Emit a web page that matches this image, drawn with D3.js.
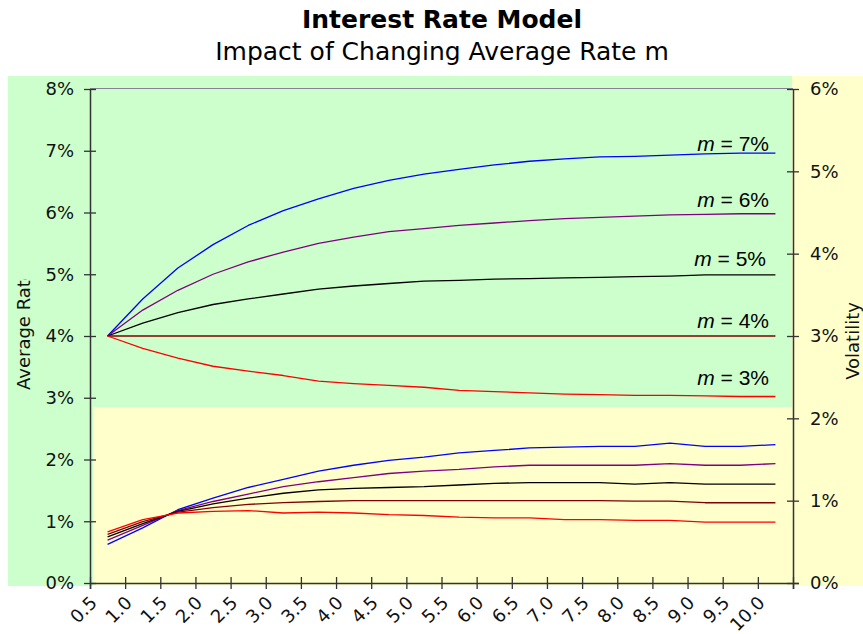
<!DOCTYPE html>
<html><head><meta charset="utf-8">
<script src="https://cdn.jsdelivr.net/npm/d3@7"></script>
<style>body{margin:0;background:#fff}svg{display:block}</style>
</head><body><svg id="c" width="863" height="634"></svg>
<script>
const categories = ["0.5","1.0","1.5","2.0","2.5","3.0","3.5","4.0","4.5","5.0","5.5","6.0","6.5","7.0","7.5","8.0","8.5","9.0","9.5","10.0"];
const seriesLabels = ["7%","6%","5%","4%","3%"];
const seriesColors = ["#0000ff","#800080","#000000","#800000","#ff0000"];
const avg7 = [4.00,4.60,5.10,5.48,5.79,6.03,6.22,6.39,6.52,6.62,6.70,6.77,6.83,6.87,6.90,6.91,6.93,6.95,6.96,6.96];
const avg6 = [4.00,4.42,4.74,5.00,5.20,5.36,5.50,5.60,5.69,5.74,5.79,5.83,5.87,5.90,5.92,5.94,5.96,5.97,5.98,5.98];
const avg5 = [4.00,4.21,4.38,4.51,4.60,4.68,4.76,4.81,4.85,4.89,4.90,4.92,4.93,4.94,4.95,4.96,4.97,4.99,4.99,4.99];
const avg4 = [4.00,4.00,4.00,4.00,4.00,4.00,4.00,4.00,4.00,4.00,4.00,4.00,4.00,4.00,4.00,4.00,4.00,4.00,4.00,4.00];
const avg3 = [4.00,3.80,3.64,3.51,3.43,3.36,3.27,3.23,3.20,3.17,3.12,3.10,3.08,3.06,3.05,3.04,3.04,3.03,3.02,3.02];
const vol7 = [0.47,0.67,0.89,1.03,1.16,1.26,1.36,1.43,1.49,1.53,1.58,1.61,1.64,1.65,1.66,1.66,1.70,1.66,1.66,1.68];
const vol6 = [0.52,0.70,0.88,0.99,1.08,1.17,1.23,1.28,1.33,1.36,1.38,1.41,1.43,1.43,1.43,1.43,1.45,1.43,1.43,1.45];
const vol5 = [0.56,0.72,0.87,0.96,1.03,1.09,1.13,1.15,1.16,1.17,1.19,1.21,1.22,1.22,1.22,1.20,1.22,1.20,1.20,1.20];
const vol4 = [0.59,0.745,0.86,0.915,0.955,0.975,0.99,1.00,1.00,1.00,1.00,1.00,1.00,1.00,1.00,0.995,0.995,0.975,0.975,0.975];
const vol3 = [0.62,0.77,0.85,0.87,0.88,0.85,0.86,0.85,0.83,0.82,0.80,0.79,0.79,0.77,0.77,0.76,0.76,0.74,0.74,0.74];
const leftTicks = [0,1,2,3,4,5,6,7,8];
const rightTicks = [0,1,2,3,4,5,6];

const avgSeries = [avg7, avg6, avg5, avg4, avg3];
const volSeries = [vol7, vol6, vol5, vol4, vol3];
const labelLift = [2, 7, 9, 8, 12];
const labelRight = [769, 769, 766, 769, 769];

const svg = d3.select("#c");
const font = "'DejaVu Sans', Verdana, sans-serif";
const X0 = 90, X1 = 793, Y0 = 583, Y1 = 89;
const x = d3.scaleBand().domain(categories).range([X0, X1]).padding(0);
const yL = d3.scaleLinear().domain([0, 8]).range([Y0, Y1]);
const yR = d3.scaleLinear().domain([0, 6]).range([Y0, Y1]);
const cx = i => x(categories[i]) + x.bandwidth() / 2;

// backgrounds
svg.append("rect").attr("x", 8).attr("y", 76).attr("width", 785).attr("height", 510).attr("fill", "#ccffcc");
svg.append("rect").attr("x", 93).attr("y", 407).attr("width", 700).attr("height", 179).attr("fill", "#ffffcc");
svg.append("rect").attr("x", 792).attr("y", 76).attr("width", 71).attr("height", 510).attr("fill", "#ffffcc");

// top border line
svg.append("line").attr("x1", X0).attr("x2", X1).attr("y1", Y1 - 0.5).attr("y2", Y1 - 0.5)
  .attr("stroke", "#8a7f98").attr("stroke-width", 1.2);

// lines
const lineV = d3.line().x((d, i) => cx(i)).y(d => yR(d));
const lineA = d3.line().x((d, i) => cx(i)).y(d => yL(d));
volSeries.forEach((s, k) => {
  svg.append("path").attr("d", lineV(s)).attr("fill", "none")
    .attr("stroke", seriesColors[k]).attr("stroke-width", 1.3).attr("stroke-linejoin", "round");
});
avgSeries.forEach((s, k) => {
  svg.append("path").attr("d", lineA(s)).attr("fill", "none")
    .attr("stroke", seriesColors[k]).attr("stroke-width", 1.3).attr("stroke-linejoin", "round");
});

// series labels
avgSeries.forEach((s, k) => {
  const t = svg.append("text")
    .attr("x", labelRight[k]).attr("y", yL(s[s.length - 1]) - labelLift[k])
    .attr("text-anchor", "end")
    .attr("font-family", "'Liberation Sans', Arial, sans-serif")
    .attr("font-size", 21).attr("fill", "#000");
  t.append("tspan").attr("font-style", "italic").text("m");
  t.append("tspan").text(" = " + seriesLabels[k]);
});

// left axis
const gL = svg.append("g").attr("transform", `translate(${X0},0)`)
  .call(d3.axisLeft(yL).tickValues(leftTicks).tickFormat(d => d + "%").tickSizeInner(12).tickSizeOuter(0).tickPadding(4));
gL.select(".domain").attr("stroke", "#333").attr("stroke-width", 1.5).attr("d", `M0.5,${Y1}V${Y0 + 6}`);
gL.selectAll(".tick line").attr("x1", 6).attr("x2", -6).attr("stroke", "#333").attr("stroke-width", 1.3);
gL.selectAll(".tick text").attr("font-family", font).attr("font-size", 18).attr("fill", "#111");

// right axis
const gR = svg.append("g").attr("transform", `translate(${X1},0)`)
  .call(d3.axisRight(yR).tickValues(rightTicks).tickFormat(d => d + "%").tickSizeInner(12).tickSizeOuter(0).tickPadding(5));
gR.select(".domain").attr("stroke", "#333").attr("stroke-width", 1.5).attr("d", `M0.5,${Y1}V${Y0 + 6}`);
gR.selectAll(".tick line").attr("x1", -6).attr("x2", 6).attr("stroke", "#333").attr("stroke-width", 1.3);
gR.selectAll(".tick text").attr("font-family", font).attr("font-size", 18).attr("fill", "#111");

// bottom axis
const gB = svg.append("g");
gB.append("line").attr("x1", X0).attr("x2", X1 + 6).attr("y1", Y0 + 0.5).attr("y2", Y0 + 0.5)
  .attr("stroke", "#333").attr("stroke-width", 1.5);
const tickPos = categories.map(c => x(c)).concat([X1]);
gB.selectAll("line.tk").data(tickPos).join("line").attr("class", "tk")
  .attr("x1", d => d + 0.5).attr("x2", d => d + 0.5).attr("y1", Y0 - 6).attr("y2", Y0 + 6)
  .attr("stroke", "#333").attr("stroke-width", 1.3);
gB.selectAll("text").data(categories).join("text")
  .attr("transform", c => `translate(${x(c) + 8},${Y0 + 21}) rotate(-45)`)
  .attr("text-anchor", "end").attr("font-family", font).attr("font-size", 18).attr("fill", "#111")
  .text(c => c);

// axis titles
svg.append("clipPath").attr("id", "clipL").append("rect").attr("x", 0).attr("y", 279).attr("width", 60).attr("height", 200);
svg.append("g").attr("clip-path", "url(#clipL)")
  .append("text")
  .attr("transform", "translate(29.5,390) rotate(-90)")
  .attr("text-anchor", "start").attr("font-family", font).attr("font-size", 18).attr("fill", "#111")
  .text("Average Rate");
svg.append("text")
  .attr("transform", "translate(859,341) rotate(-90)")
  .attr("text-anchor", "middle").attr("font-family", font).attr("font-size", 18).attr("fill", "#111")
  .text("Volatility");

// titles
svg.append("text").attr("x", 442).attr("y", 28).attr("text-anchor", "middle")
  .attr("font-family", font).attr("font-weight", "bold").attr("font-size", 25).attr("fill", "#000")
  .text("Interest Rate Model");
svg.append("text").attr("x", 442).attr("y", 60).attr("text-anchor", "middle")
  .attr("font-family", font).attr("font-size", 25).attr("fill", "#000")
  .text("Impact of Changing Average Rate m");
</script></body></html>
